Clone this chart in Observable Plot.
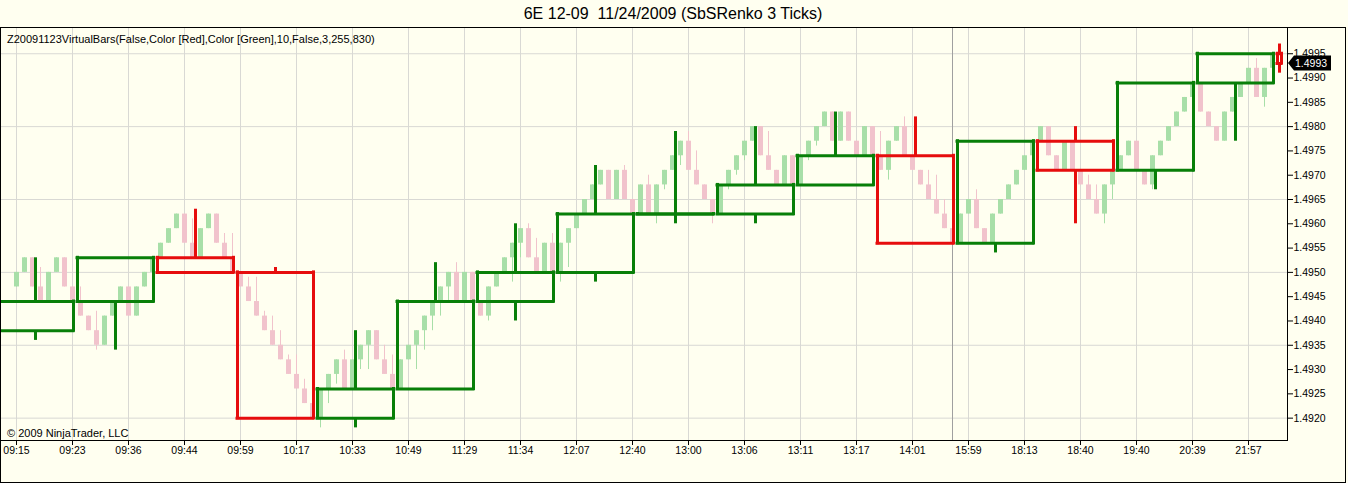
<!DOCTYPE html>
<html><head><meta charset="utf-8">
<script src="https://cdn.jsdelivr.net/npm/d3@7"></script>
<script src="https://cdn.jsdelivr.net/npm/@observablehq/plot@0.6"></script>
<style>
html,body{margin:0;padding:0;background:#fffff0;}
#wrap{position:relative;width:1348px;height:483px;background:#fffff0;font-family:"Liberation Sans",Arial,sans-serif;overflow:hidden;color:#000;}
#title{position:absolute;left:0;top:0;width:1346px;height:27px;line-height:27px;text-align:center;font-size:16px;white-space:pre;}
#chart{position:absolute;left:0;top:27px;width:1346px;height:456px;overflow:hidden;}
#frame{position:absolute;left:0;top:27px;width:1344px;height:454px;border:1px solid #000;pointer-events:none;}
#ind{position:absolute;left:7px;top:33px;font-size:11px;line-height:12px;white-space:pre;}
#copy{position:absolute;left:7px;top:427px;font-size:11px;line-height:12px;white-space:pre;}
</style></head>
<body>
<div id="wrap">
  <div id="title"></div>
  <div id="chart"></div>
  <div id="frame"></div>
  <div id="ind"></div>
  <div id="copy"></div>
</div>
<script>
// ---- text ----
const titleText = "6E 12-09  11/24/2009 (SbSRenko 3 Ticks)";
const indicatorText = "Z20091123VirtualBars(False,Color [Red],Color [Green],10,False,3,255,830)";
const copyrightText = "\u00A9 2009 NinjaTrader, LLC";

// ---- x axis (bar index) ----
const xTickIdx = [0,7,14,21,28,35,42,49,56,63,70,77,84,91,98,105,112,119,126,133,140,147,154];
const xTickLabels = ["09:15","09:23","09:36","09:44","09:59","10:17","10:33","10:49","11:29","11:34","12:07","12:40","13:00","13:06","13:11","13:17","14:01","15:59","18:13","18:40","19:40","20:39","21:57"];
const sessionBreakIdx = 117;

// ---- y axis ----
const yTicks = [1.4920,1.4925,1.4930,1.4935,1.4940,1.4945,1.4950,1.4955,1.4960,1.4965,1.4970,1.4975,1.4980,1.4985,1.4990,1.4995];
const yGrid = [1.4920,1.4935,1.4950,1.4965,1.4980,1.4995];

// ---- renko bars (3 ticks) ----
const firstOpen = 1.4947;
const renkoClose = [
1.4950,1.4953,1.4947,1.4944,1.4950,1.4953,1.4947,1.4944,1.4941,1.4938,
1.4935,1.4941,1.4944,1.4947,1.4941,1.4947,1.4950,1.4953,1.4956,1.4959,
1.4962,1.4956,1.4953,1.4959,1.4962,1.4956,1.4953,1.4950,1.4947,1.4944,
1.4941,1.4938,1.4935,1.4932,1.4929,1.4926,1.4923,1.4920,1.4926,1.4929,
1.4932,1.4926,1.4932,1.4935,1.4938,1.4932,1.4929,1.4926,1.4932,1.4935,
1.4938,1.4941,1.4944,1.4947,1.4950,1.4944,1.4950,1.4944,1.4941,1.4947,
1.4950,1.4953,1.4956,1.4959,1.4953,1.4950,1.4956,1.4950,1.4956,1.4959,
1.4962,1.4965,1.4968,1.4971,1.4965,1.4971,1.4965,1.4962,1.4968,1.4962,
1.4968,1.4971,1.4974,1.4977,1.4971,1.4968,1.4965,1.4962,1.4968,1.4971,
1.4974,1.4977,1.4980,1.4974,1.4971,1.4968,1.4974,1.4968,1.4974,1.4977,
1.4980,1.4983,1.4977,1.4983,1.4977,1.4974,1.4980,1.4974,1.4971,1.4977,
1.4980,1.4974,1.4971,1.4968,1.4965,1.4962,1.4959,1.4956,1.4962,1.4965,
1.4959,1.4956,1.4962,1.4965,1.4968,1.4971,1.4974,1.4977,1.4980,1.4974,
1.4971,1.4977,1.4971,1.4968,1.4965,1.4962,1.4968,1.4971,1.4974,1.4977,
1.4971,1.4968,1.4974,1.4977,1.4980,1.4983,1.4986,1.4989,1.4983,1.4980,
1.4977,1.4983,1.4986,1.4989,1.4992,1.4986,1.4992,1.4995];
const wickHigh = [[3,1.4951],[8,1.4947],[10,1.4942],[22,1.4961],[26,1.4958],[27,1.4958],[29,1.4949],[30,1.4949],[31,1.4942],[32,1.4941],[33,1.4938],[34,1.4933],[35,1.4933],[36,1.4928],[41,1.4934],[46,1.4935],[47,1.4933],[55,1.4952],[64,1.4960],[65,1.4957],[67,1.4958],[76,1.4972],[79,1.4970],[84,1.4979],[85,1.4975],[94,1.4979],[108,1.4979],[111,1.4982],[114,1.4971],[115,1.4970],[116,1.4965],[120,1.4967],[134,1.4970],[135,1.4968],[155,1.4994]];
const wickLow = [[10,1.4934],[38,1.4918],[39,1.4923],[40,1.4927],[43,1.4930],[44,1.4930],[50,1.4930],[51,1.4934],[52,1.4938],[53,1.4941],[54,1.4944],[59,1.4940],[62,1.4948],[63,1.4953],[68,1.4948],[69,1.4951],[80,1.4960],[81,1.4967],[83,1.4972],[87,1.4960],[89,1.4967],[90,1.4970],[91,1.4973],[99,1.4973],[100,1.4976],[109,1.4969],[136,1.4960],[137,1.4965],[142,1.4967],[156,1.4984]];

// ---- virtual bars (10 renko bars each) ----
const vbFirst = [-2,8,18,28,38,48,58,68,78,88,98,108,118,128,138,148,158];
const vbLast  = [7,17,27,37,47,57,67,77,87,97,107,117,127,137,147,157,158];
const vbOpen  = [1.4938,1.4944,1.4953,1.4950,1.4920,1.4926,1.4944,1.4950,1.4962,1.4962,1.4968,1.4974,1.4956,1.4977,1.4971,1.4989,1.4995];
const vbClose = [1.4944,1.4953,1.4950,1.4920,1.4926,1.4944,1.4950,1.4962,1.4962,1.4968,1.4974,1.4956,1.4977,1.4971,1.4989,1.4995,1.4993];
const vbHigh  = [1.4953,1.4953,1.4963,1.4951,1.4938,1.4952,1.4960,1.4972,1.4979,1.4980,1.4983,1.4982,1.4977,1.4980,1.4989,1.4995,1.4997];
const vbLow   = [1.4936,1.4934,1.4950,1.4920,1.4918,1.4926,1.4940,1.4948,1.4960,1.4960,1.4968,1.4956,1.4954,1.4960,1.4967,1.4977,1.4991];
const lastPrice = 1.4993;

// ---- colours ----
const UP_BODY = "#a8dfa8", DN_BODY = "#f1c3cc";
const VB_UP = "#087f08", VB_DN = "#e60d0d";

document.getElementById("title").textContent = titleText;
document.getElementById("ind").textContent = indicatorText;
document.getElementById("copy").textContent = copyrightText;

const bars = renkoClose.map((c, i) => {
  const open = i === 0 ? firstOpen : renkoClose[i - 1];
  return {i, open, close: c, up: c > open, high: Math.max(open, c), low: Math.min(open, c)};
});
wickHigh.forEach(([i, p]) => bars[i].high = p);
wickLow.forEach(([i, p]) => bars[i].low = p);
bars.forEach(b => b.color = b.up ? UP_BODY : DN_BODY);

const vb = vbOpen.map((o, n) => {
  const c = vbClose[n];
  const x1 = vbFirst[n] - 0.375, x2 = vbLast[n] + 0.125;
  return {x1, x2, xc: (x1 + x2) / 2, open: o, close: c, high: vbHigh[n], low: vbLow[n],
          top: Math.max(o, c), bot: Math.min(o, c), color: c >= o ? VB_UP : VB_DN};
});

const labelMap = new Map(xTickIdx.map((d, k) => [d, xTickLabels[k]]));
const W = 1348, MR = 61;

const plot = Plot.plot({
  width: W, height: 456,
  marginLeft: 0, marginRight: MR, marginTop: 0, marginBottom: 43,
  style: {background: "transparent", fontFamily: "'Liberation Sans', Arial, sans-serif", fontSize: "10.5px", color: "#000", maxWidth: "none"},
  x: {type: "linear", domain: [-2, 158.875], axis: null},
  y: {type: "linear", domain: [1.49154, 1.50004], axis: null},
  color: {type: "identity"},
  marks: [
    Plot.gridX({ticks: xTickIdx, stroke: "#d9d9d4", strokeOpacity: 1}),
    Plot.gridY({ticks: yGrid, stroke: "#d9d9d4", strokeOpacity: 1}),
    Plot.ruleX([sessionBreakIdx], {stroke: "#a0a0a0", strokeWidth: 1}),
    Plot.ruleX(bars, {x: "i", y1: "low", y2: "high", stroke: "color", strokeWidth: 1}),
    Plot.ruleX(bars, {x: "i", y1: "open", y2: "close", stroke: "color", strokeWidth: 5}),
    // virtual bar wicks
    Plot.ruleX(vb.filter(d => d.high > d.top), {x: "xc", y1: "top", y2: "high", stroke: "color", strokeWidth: 3}),
    Plot.ruleX(vb.filter(d => d.low < d.bot), {x: "xc", y1: "bot", y2: "low", stroke: "color", strokeWidth: 3}),
    // virtual bar boxes
    Plot.ruleY(vb, {y: "open", x1: "x1", x2: "x2", stroke: "color", strokeWidth: 3, strokeLinecap: "square"}),
    Plot.ruleY(vb, {y: "close", x1: "x1", x2: "x2", stroke: "color", strokeWidth: 3, strokeLinecap: "square"}),
    Plot.ruleX(vb, {x: "x1", y1: "open", y2: "close", stroke: "color", strokeWidth: 3, strokeLinecap: "square"}),
    Plot.ruleX(vb, {x: "x2", y1: "open", y2: "close", stroke: "color", strokeWidth: 3, strokeLinecap: "square"}),
    Plot.axisX({ticks: xTickIdx, tickFormat: d => labelMap.get(d), tickSize: 5, tickPadding: 1, label: null, stroke: "#000"}),
    Plot.axisY({anchor: "right", ticks: yTicks, tickFormat: d3.format(".4f"), tickSize: 5, tickPadding: 1, label: null, stroke: "#000"}),
    Plot.frame({stroke: "#000"})
  ]
});
document.getElementById("chart").appendChild(plot);

// last-price marker placed with the plot's own y scale
const yy = plot.scale("y").apply(lastPrice);
const xr = W - MR;
const svg = d3.select(plot);
const g = svg.append("g");
g.append("path")
  .attr("d", `M${xr + 1},${yy} L${xr + 7},${yy - 7.5} L${xr + 44},${yy - 7.5} L${xr + 44},${yy + 7.5} L${xr + 7},${yy + 7.5} Z`)
  .attr("fill", "#000");
g.append("text")
  .attr("x", xr + 8).attr("y", yy).attr("dy", "0.36em")
  .attr("text-anchor", "start")
  .attr("fill", "#fff").attr("font-size", "10.5px")
  .text(d3.format(".4f")(lastPrice));
</script>
</body></html>
